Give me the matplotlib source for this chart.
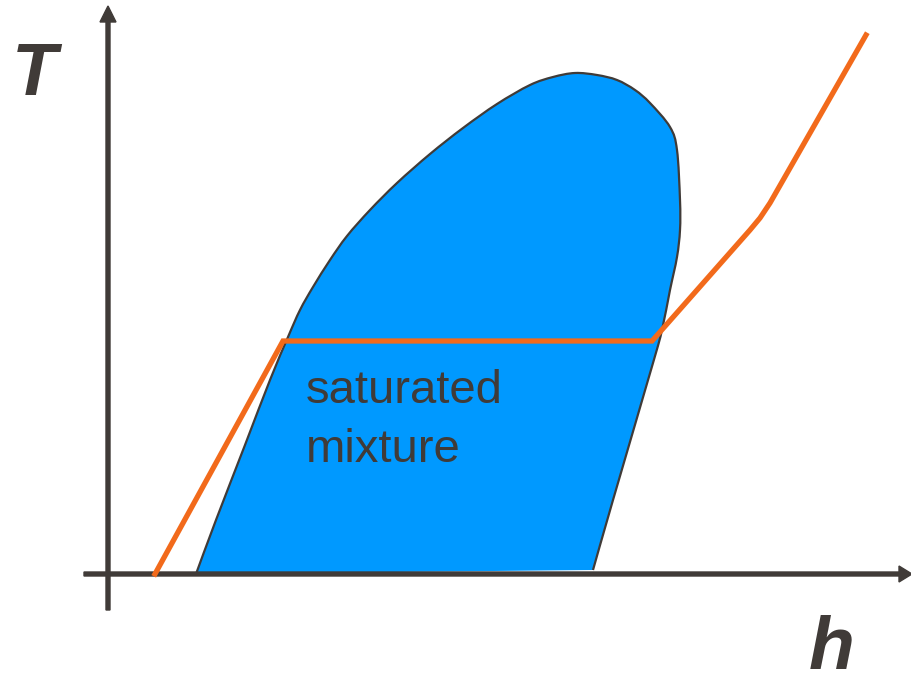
import matplotlib
matplotlib.use('Agg')
import matplotlib.pyplot as plt
import numpy as np
from matplotlib.path import Path
from matplotlib.patches import PathPatch

# dome outline (h, T): liquid branch up, vapour branch down
dome_h = [196, 216, 245, 270, 288, 300, 313, 330, 347, 370, 397, 430, 463, 497, 530, 553, 575,
          597, 617, 635, 650, 670, 677, 680, 680, 677, 670, 662, 653, 613, 593]
dome_T = [99, 153, 228, 293, 336, 363, 386, 413, 437, 463, 490, 519, 545, 569, 588, 596, 600,
          598, 593, 583, 570, 546, 523, 473, 443, 416, 383, 343, 310, 173, 103]

# heating line (orange)
line_h = [155, 283, 652, 750, 760, 770, 866]
line_T = [99, 332, 332, 443, 455, 470, 638]

label_T = 'T'
label_h = 'h'
region_lines = ['saturated', 'mixture']

dark = '#403B38'
blue = '#0099FF'
orange = '#F26A1B'


def smooth_path(xs, ys):
    # catmull-rom through the points, handed to matplotlib as cubic beziers
    p = np.column_stack([xs, ys]).astype(float)
    p = np.vstack([p[0], p, p[-1]])
    verts = [p[1]]
    codes = [Path.MOVETO]
    for i in range(1, len(p) - 2):
        c1 = p[i] + (p[i + 1] - p[i - 1]) / 6
        c2 = p[i + 1] - (p[i + 2] - p[i]) / 6
        verts += [c1, c2, p[i + 1]]
        codes += [Path.CURVE4] * 3
    verts += [p[1], p[1]]
    codes += [Path.LINETO, Path.CLOSEPOLY]
    return Path(verts, codes)


fig = plt.figure(figsize=(9.12, 6.73), dpi=100)
ax = fig.add_axes([0, 0, 1, 1])
ax.set_xlim(0, 912)
ax.set_ylim(0, 673)
ax.axis('off')

dome = smooth_path(dome_h, dome_T)
ax.add_patch(PathPatch(dome, facecolor=blue, edgecolor='none', zorder=1))
outline = Path(dome.vertices[:-2], dome.codes[:-2])
ax.add_patch(PathPatch(outline, facecolor='none', edgecolor=dark, lw=1.6, zorder=2))

# axes arrows
ax.arrow(108, 63, 0, 604, width=4, head_width=16, head_length=16,
         length_includes_head=True, color=dark, zorder=3)
ax.arrow(84, 99, 828, 0, width=4, head_width=16, head_length=13,
         length_includes_head=True, color=dark, zorder=3)

ax.plot(line_h, line_T, color=orange, lw=3.8, zorder=4, solid_joinstyle='miter')

for txt, base in zip(region_lines, [270, 211]):
    ax.text(306, base, txt, fontsize=34, family='Liberation Sans', color=dark,
            va='baseline', ha='left', zorder=5)

ax.text(12, 578, label_T, fontsize=53, family='Liberation Sans', weight='bold',
        style='italic', color=dark, va='baseline', ha='left')
ax.text(809, 4, label_h, fontsize=54, family='Liberation Sans', weight='bold',
        style='italic', color=dark, va='baseline', ha='left')

fig.savefig('out.png', dpi=100)
